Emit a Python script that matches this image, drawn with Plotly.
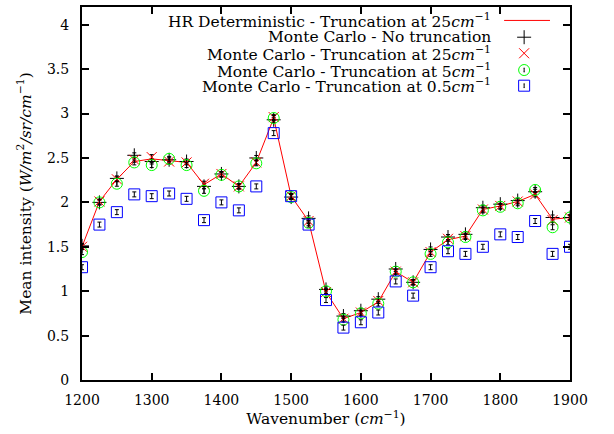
import plotly.graph_objects as go

wavenumber = [1200, 1225, 1250, 1275, 1300, 1325, 1350, 1375, 1400, 1425, 1450, 1475, 1500, 1525,
              1550, 1575, 1600, 1625, 1650, 1675, 1700, 1725, 1750, 1775, 1800, 1825, 1850, 1875, 1900]

hr_det_25 = [1.50, 2.01, 2.26, 2.46, 2.49, 2.47, 2.45, 2.20, 2.32, 2.18, 2.45, 2.95, 2.07, 1.79,
             0.99, 0.69, 0.76, 0.88, 1.22, 1.10, 1.44, 1.58, 1.62, 1.92, 1.96, 2.01, 2.09, 1.81, 1.83]
mc_notrunc = [1.51, 2.00, 2.27, 2.53, 2.46, 2.48, 2.46, 2.18, 2.32, 2.18, 2.50, 2.93, 2.06, 1.82,
              1.02, 0.72, 0.78, 0.91, 1.25, 1.10, 1.47, 1.61, 1.64, 1.94, 1.98, 2.02, 2.12, 1.83, 1.83]
mc_25 = [1.50, 2.01, 2.26, 2.48, 2.51, 2.46, 2.45, 2.21, 2.32, 2.18, 2.45, 2.96, 2.07, 1.79,
         0.99, 0.69, 0.76, 0.89, 1.22, 1.10, 1.44, 1.59, 1.62, 1.92, 1.96, 2.01, 2.09, 1.80, 1.83]
mc_5 = [1.44, 2.00, 2.21, 2.45, 2.42, 2.49, 2.42, 2.13, 2.31, 2.18, 2.44, 2.95, 2.06, 1.77,
        1.00, 0.68, 0.75, 0.86, 1.22, 1.10, 1.42, 1.55, 1.61, 1.91, 1.95, 1.99, 2.14, 1.72, 1.83]
mc_05 = [1.27, 1.75, 1.89, 2.09, 2.07, 2.10, 2.04, 1.80, 2.00, 1.91, 2.18, 2.78, 2.07, 1.75,
         0.90, 0.59, 0.65, 0.76, 1.11, 0.95, 1.27, 1.45, 1.42, 1.50, 1.64, 1.61, 1.79, 1.42, 1.50]
mc_err = [0.028] * len(wavenumber)

x_ticks = [1200, 1300, 1400, 1500, 1600, 1700, 1800, 1900]
y_ticks = [0, 0.5, 1, 1.5, 2, 2.5, 3, 3.5, 4]

legend_labels = [
    "HR Deterministic - Truncation at 25<i>cm</i><sup>−1</sup>",
    "Monte Carlo - No truncation",
    "Monte Carlo - Truncation at 25<i>cm</i><sup>−1</sup>",
    "Monte Carlo - Truncation at 5<i>cm</i><sup>−1</sup>",
    "Monte Carlo - Truncation at 0.5<i>cm</i><sup>−1</sup>",
]

FONT = "DejaVu Serif"
FS_TICK = 14
FS_TEXT = 15.5
err = dict(type="data", array=mc_err, color="black", thickness=1, width=2)

fig = go.Figure()
fig.add_trace(go.Scatter(x=wavenumber, y=hr_det_25, mode="lines",
                         line=dict(color="#ff0000", width=1)))
fig.add_trace(go.Scatter(x=wavenumber, y=mc_notrunc, mode="markers", error_y=err,
                         marker=dict(symbol="cross-thin", size=10, line=dict(color="black", width=1))))
fig.add_trace(go.Scatter(x=wavenumber, y=mc_25, mode="markers", error_y=err,
                         marker=dict(symbol="x-thin", size=10, line=dict(color="#ff0000", width=1))))
fig.add_trace(go.Scatter(x=wavenumber, y=mc_5, mode="markers", error_y=err,
                         marker=dict(symbol="circle-open", size=11, line=dict(color="#00ff00", width=1),
                                     color="#00ff00")))
fig.add_trace(go.Scatter(x=wavenumber, y=mc_05, mode="markers", error_y=err,
                         marker=dict(symbol="square-open", size=11, line=dict(color="#0000ff", width=1),
                                     color="#0000ff")))

# Manual gnuplot-style key (text right-aligned, sample on the right)
key_rows = [0.964, 0.919, 0.876, 0.831, 0.789]
key_x_text = 0.842
key_x_sym = 0.906
for lab, ky in zip(legend_labels, key_rows):
    fig.add_annotation(x=key_x_text, y=ky, xref="paper", yref="paper", text=lab,
                       showarrow=False, xanchor="right", yanchor="middle",
                       font=dict(family=FONT, size=FS_TEXT, color="black"))
fig.add_trace(go.Scatter(x=[0.865, 0.959], y=[key_rows[0]] * 2, xaxis="x2", yaxis="y2",
                         mode="lines", line=dict(color="#ff0000", width=1)))
key_err = dict(type="data", array=[0.005], color="black", thickness=1, width=0.5)
for ky, sym, col, sz in [(key_rows[1], "cross-thin", "black", 10), (key_rows[2], "x-thin", "#ff0000", 10),
                          (key_rows[3], "circle-open", "#00ff00", 11), (key_rows[4], "square-open", "#0000ff", 11)]:
    fig.add_trace(go.Scatter(x=[key_x_sym], y=[ky], xaxis="x2", yaxis="y2", mode="markers",
                             error_y=key_err if sym in ("circle-open", "square-open") else None,
                             marker=dict(symbol=sym, size=sz, color=col, line=dict(color=col, width=1))))

axis_common = dict(showline=True, linecolor="black", linewidth=2, mirror="allticks",
                   ticks="inside", ticklen=7, tickwidth=1.5, tickcolor="black",
                   showgrid=False, zeroline=False,
                   tickfont=dict(family=FONT, size=FS_TICK, color="black"))

fig.update_layout(
    width=614, height=434, showlegend=False,
    margin=dict(l=82, r=44, t=5, b=54),
    paper_bgcolor="white", plot_bgcolor="white",
    xaxis=dict(range=[1200, 1900], tickvals=x_ticks, ticklabelstandoff=6,
               title=dict(text="Wavenumber (<i>cm</i><sup>−1</sup>)", standoff=1,
                          font=dict(family=FONT, size=FS_TEXT, color="black")),
               **axis_common),
    yaxis=dict(range=[0, 4.2], tickvals=y_ticks, ticklabelstandoff=8,
               title=dict(text="Mean intensity (<i>W/m</i><sup>2</sup><i>/sr/cm</i><sup>−1</sup>)", standoff=12,
                          font=dict(family=FONT, size=FS_TEXT, color="black")),
               **axis_common),
    xaxis2=dict(range=[0, 1], overlaying="x", visible=False, fixedrange=True),
    yaxis2=dict(range=[0, 1], overlaying="y", visible=False, fixedrange=True),
)

fig.write_html("out.html")
